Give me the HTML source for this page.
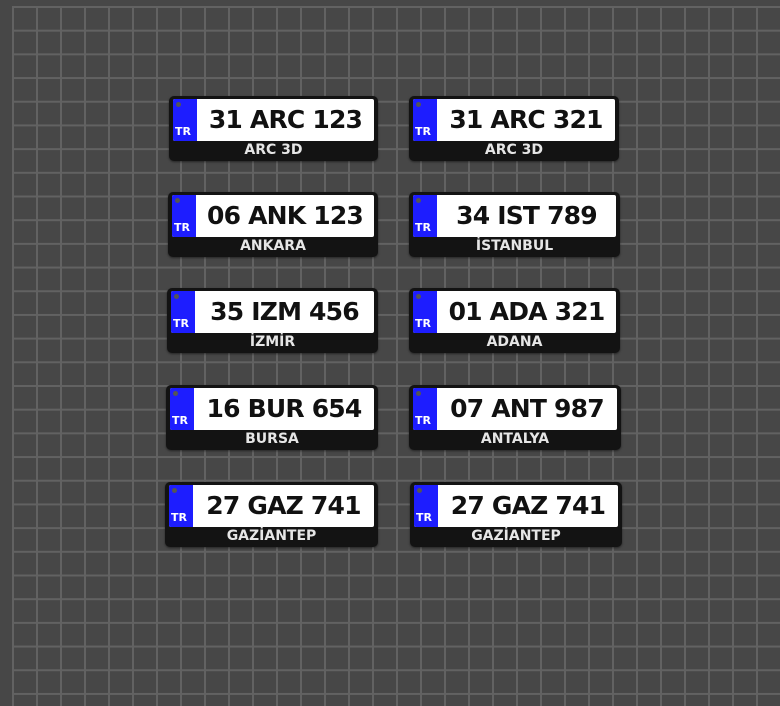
<!DOCTYPE html>
<html><head><meta charset="utf-8"><style>
body{margin:0;width:780px;height:703px;overflow:hidden;background:#474747;position:relative;font-family:"DejaVu Sans","Liberation Sans",sans-serif}
.grid{position:absolute;left:12px;top:6px;width:780px;height:700px;
background-image:linear-gradient(to right,#626262 0,#626262 2px,transparent 2px),linear-gradient(to bottom,#626262 0,#626262 2px,transparent 2px);
background-size:24px 23.7px}
.p{position:absolute;height:65px;background:#131313;border-radius:5px;box-shadow:0 1px 2px rgba(0,0,0,.5)}
.w{position:absolute;left:4px;right:4px;top:3px;height:42px;background:#fff;border-radius:2px;overflow:hidden}
.b{position:absolute;left:0;top:0;bottom:0;width:24px;background:#1d1dff}
.b i{position:absolute;left:3px;top:3px;width:5px;height:5px;border-radius:50%;background:#555}
.b span{position:absolute;left:2px;bottom:3px;color:#fff;font-size:11px;font-weight:bold}
.n{position:absolute;left:24px;right:0;top:0;height:42px;line-height:42px;text-align:center;font-size:25px;font-weight:bold;color:#111;letter-spacing:-0.8px}
.c{position:absolute;left:0;right:0;top:45px;height:20px;line-height:19px;text-align:center;color:#e6e6e6;font-size:14px;font-weight:bold}
</style></head><body><div class="grid"></div>

<div class="p" style="left:169px;top:96px;width:209px"><div class="w"><div class="b"><i></i><span>TR</span></div><div class="n">31 ARC 123</div></div><div class="c">ARC 3D</div></div>
<div class="p" style="left:409px;top:96px;width:210px"><div class="w"><div class="b"><i></i><span>TR</span></div><div class="n">31 ARC 321</div></div><div class="c">ARC 3D</div></div>

<div class="p" style="left:168px;top:192px;width:210px"><div class="w"><div class="b"><i></i><span>TR</span></div><div class="n">06 ANK 123</div></div><div class="c">ANKARA</div></div>
<div class="p" style="left:409px;top:192px;width:211px"><div class="w"><div class="b"><i></i><span>TR</span></div><div class="n">34 IST 789</div></div><div class="c">İSTANBUL</div></div>

<div class="p" style="left:167px;top:288px;width:211px"><div class="w"><div class="b"><i></i><span>TR</span></div><div class="n">35 IZM 456</div></div><div class="c">İZMİR</div></div>
<div class="p" style="left:409px;top:288px;width:211px"><div class="w"><div class="b"><i></i><span>TR</span></div><div class="n">01 ADA 321</div></div><div class="c">ADANA</div></div>

<div class="p" style="left:166px;top:385px;width:212px"><div class="w"><div class="b"><i></i><span>TR</span></div><div class="n">16 BUR 654</div></div><div class="c">BURSA</div></div>
<div class="p" style="left:409px;top:385px;width:212px"><div class="w"><div class="b"><i></i><span>TR</span></div><div class="n">07 ANT 987</div></div><div class="c">ANTALYA</div></div>

<div class="p" style="left:165px;top:482px;width:213px"><div class="w"><div class="b"><i></i><span>TR</span></div><div class="n">27 GAZ 741</div></div><div class="c">GAZİANTEP</div></div>
<div class="p" style="left:410px;top:482px;width:212px"><div class="w"><div class="b"><i></i><span>TR</span></div><div class="n">27 GAZ 741</div></div><div class="c">GAZİANTEP</div></div>
</body></html>
